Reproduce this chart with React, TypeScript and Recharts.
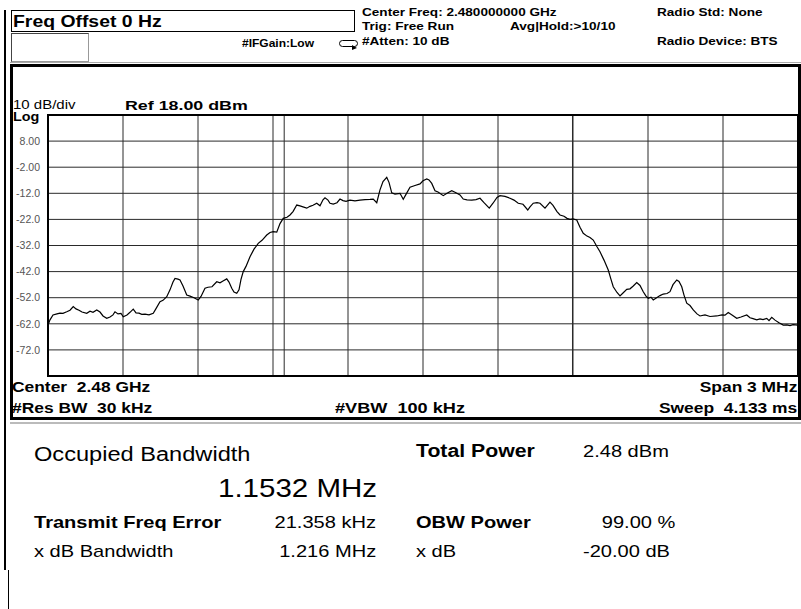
import React from 'react';
import { LineChart, Line, XAxis, YAxis, CartesianGrid, ReferenceLine } from 'recharts';

// ---- data ----
const freqOffsetMHz = [
  -1.5, -1.492, -1.48, -1.464, -1.452, -1.44, -1.425, -1.412, -1.399, -1.388, -1.376, -1.364, -1.345, -1.332, -1.32,
  -1.305, -1.292, -1.28, -1.265, -1.252, -1.24, -1.232, -1.22, -1.208, -1.199, -1.184, -1.172, -1.159, -1.148, -1.136,
  -1.125, -1.112, -1.096, -1.079, -1.068, -1.052, -1.04, -1.025, -1.012, -1.0, -0.992, -0.98, -0.972, -0.96, -0.945,
  -0.932, -0.916, -0.899, -0.888, -0.872, -0.86, -0.844, -0.825, -0.812, -0.8, -0.785, -0.776, -0.765, -0.756, -0.745,
  -0.736, -0.728, -0.719, -0.708, -0.692, -0.676, -0.659, -0.644, -0.625, -0.612, -0.599, -0.585, -0.572, -0.559, -0.544,
  -0.532, -0.52, -0.505, -0.492, -0.48, -0.465, -0.452, -0.44, -0.425, -0.412, -0.4, -0.392, -0.38, -0.372, -0.359,
  -0.344, -0.332, -0.32, -0.308, -0.292, -0.272, -0.252, -0.232, -0.212, -0.199, -0.185, -0.172, -0.16, -0.145, -0.136,
  -0.125, -0.112, -0.092, -0.079, -0.068, -0.052, -0.032, -0.012, 0, 0.015, 0.024, 0.035, 0.048, 0.06, 0.081,
  0.096, 0.115, 0.128, 0.148, 0.161, 0.176, 0.195, 0.212, 0.228, 0.244, 0.265, 0.28, 0.296, 0.308, 0.328,
  0.348, 0.364, 0.381, 0.4, 0.419, 0.428, 0.441, 0.456, 0.468, 0.488, 0.508, 0.52, 0.536, 0.548, 0.564,
  0.576, 0.588, 0.6, 0.615, 0.628, 0.641, 0.656, 0.668, 0.681, 0.696, 0.708, 0.724, 0.741, 0.752, 0.761,
  0.776, 0.788, 0.8, 0.815, 0.828, 0.84, 0.855, 0.868, 0.881, 0.892, 0.901, 0.912, 0.921, 0.936, 0.948,
  0.961, 0.976, 0.988, 1.0, 1.015, 1.024, 1.035, 1.044, 1.055, 1.068, 1.081, 1.096, 1.108, 1.128, 1.148,
  1.175, 1.196, 1.208, 1.221, 1.236, 1.255, 1.272, 1.295, 1.308, 1.32, 1.335, 1.348, 1.36, 1.375, 1.384,
  1.395, 1.408, 1.424, 1.441, 1.456, 1.468, 1.48, 1.5,
];

const traceDbm = [
  -62.5, -60.5, -58.6, -58.2, -57.9, -58.0, -57.4, -56.8, -55.4, -56.3, -56.8, -57.5, -58.0, -57.2, -57.6,
  -56.7, -57.5, -59.0, -59.9, -59.4, -58.6, -57.4, -58.2, -58.0, -59.3, -58.6, -57.6, -56.4, -57.8, -57.9,
  -58.4, -58.3, -58.6, -58.0, -56.2, -53.5, -53.0, -51.6, -49.0, -46.0, -44.6, -44.9, -45.2, -47.5, -51.0,
  -51.4, -52.0, -52.9, -51.5, -48.4, -48.0, -47.8, -45.9, -46.3, -45.6, -44.8, -46.0, -48.4, -49.8, -50.3,
  -49.0, -45.0, -42.0, -40.0, -36.3, -33.4, -31.2, -30.0, -28.0, -27.0, -26.7, -26.9, -23.6, -21.6, -21.2,
  -20.3, -19.0, -16.5, -16.8, -17.2, -17.7, -17.0, -16.6, -15.8, -16.8, -14.5, -13.7, -14.6, -15.8, -16.1,
  -15.6, -14.2, -14.8, -15.1, -14.6, -14.9, -14.6, -14.4, -14.3, -14.2, -15.6, -10.7, -7.5, -5.9, -7.8,
  -11.8, -12.3, -12.0, -14.3, -12.4, -9.7, -9.0, -8.4, -7.2, -6.5, -6.9, -8.2, -11.0, -11.5, -12.9,
  -12.0, -11.0, -11.6, -12.6, -14.2, -14.5, -14.6, -14.4, -13.9, -15.6, -17.7, -15.8, -13.6, -12.9, -13.2,
  -13.9, -14.6, -15.8, -16.2, -18.4, -17.2, -15.8, -15.6, -15.8, -17.7, -15.4, -16.6, -19.0, -20.3, -20.8,
  -21.6, -22.0, -21.8, -22.2, -25.0, -27.3, -28.4, -28.9, -29.9, -32.5, -34.4, -37.6, -41.4, -45.0, -47.8,
  -50.0, -51.3, -50.2, -48.8, -48.6, -47.6, -46.2, -47.3, -49.7, -51.4, -52.2, -51.8, -52.9, -51.9, -51.2,
  -50.6, -50.4, -49.7, -47.0, -45.2, -45.8, -47.8, -51.0, -54.1, -55.0, -56.7, -58.2, -59.0, -58.6, -59.2,
  -59.0, -58.6, -58.7, -57.7, -58.6, -59.9, -59.4, -58.6, -59.7, -60.0, -60.5, -60.1, -60.4, -59.9, -60.8,
  -59.5, -60.6, -61.6, -62.5, -62.4, -62.7, -62.3, -62.5,
];

const refLevelDbm = 18;
const dbPerDiv = 10;
const spanMHz = 3;
const yTicks = [8, -2, -12, -22, -32, -42, -52, -62, -72];
const yTickLabels = ['8.00', '-2.00', '-12.0', '-22.0', '-32.0', '-42.0', '-52.0', '-62.0', '-72.0'];
const xTicks = [-1.2, -0.9, -0.6, -0.3, 0, 0.3, 0.6, 0.9, 1.2];
const obwMHz = 1.1532;
const freqErrorMHz = 0.021358;
const obwEdgesMHz = [freqErrorMHz - obwMHz / 2, freqErrorMHz + obwMHz / 2];

const data = freqOffsetMHz.map((f, i) => ({ f, v: traceDbm[i] }));

const FONT = '"Liberation Sans", Arial, Helvetica, sans-serif';

type TProps = {
  x: number; y: number; size: number; bold?: boolean; sx?: number;
  align?: 'left' | 'right'; color?: string; children: React.ReactNode;
};
function T({ x, y, size, bold, sx = 1.18, align = 'left', color = '#000', children }: TProps) {
  const style: React.CSSProperties = {
    position: 'absolute', top: y, fontSize: size, fontWeight: bold ? 700 : 400, lineHeight: 1,
    whiteSpace: 'pre', fontFamily: FONT, color,
    transform: `translateY(-50%) scaleX(${sx})`,
    transformOrigin: align === 'left' ? 'left center' : 'right center',
  };
  if (align === 'left') style.left = x; else style.right = 801 - x;
  return <div style={style}>{children}</div>;
}

function Box(props: { l: number; t: number; w: number; h: number; style?: React.CSSProperties }) {
  return (
    <div style={{ position: 'absolute', left: props.l, top: props.t, width: props.w, height: props.h, boxSizing: 'border-box', ...props.style }} />
  );
}

export default function App() {
  return (
    <div style={{ position: 'absolute', left: 0, top: 0, width: 801, height: 609, background: '#fff', overflow: 'hidden' }}>
      {/* left edge line */}
      <Box l={4} t={10} w={2} h={560} style={{ background: '#000' }} />
      <Box l={8} t={570} w={1} h={39} style={{ background: '#000' }} />

      {/* header */}
      <Box l={11} t={10} w={344} h={22} style={{ border: '1px solid #000' }} />
      <Box l={11} t={33} w={78} h={29} style={{ borderTop: '1px solid #444', borderLeft: '1px solid #444', borderRight: '1px solid #999', borderBottom: '1px solid #999' }} />
      <T x={13} y={21} size={17} bold sx={1.14}>Freq Offset 0 Hz</T>
      <T x={242} y={44} size={10} bold sx={1.2}>#IFGain:Low</T>
      <svg style={{ position: 'absolute', left: 338, top: 39 }} width={22} height={12}>
        <rect x={1.5} y={1.5} width={18} height={6} rx={3} fill="none" stroke="#000" strokeWidth={1} />
        <path d="M14 6 L19 9 L14 11 Z" fill="#000" />
      </svg>
      <T x={362} y={12.5} size={11.5} bold>Center Freq: 2.480000000 GHz</T>
      <T x={362} y={26.5} size={11.5} bold>Trig: Free Run</T>
      <T x={510} y={26.5} size={11.5} bold>Avg|Hold:&gt;10/10</T>
      <T x={362} y={41.5} size={11.5} bold>#Atten: 10 dB</T>
      <T x={657} y={12.5} size={11.5} bold>Radio Std: None</T>
      <T x={657} y={41.5} size={11.5} bold>Radio Device: BTS</T>

      {/* graph panel frame */}
      <Box l={10} t={62} w={791} h={1} style={{ background: '#aaa' }} />
      <Box l={10} t={64} w={791} h={356} style={{ border: '3px solid #000' }} />
      <Box l={10} t={422} w={791} h={2} style={{ background: '#bbb' }} />

      <T x={13} y={104.5} size={12.5} sx={1.2}>10 dB/div</T>
      <T x={13} y={117} size={12.5} bold sx={1.15}>Log</T>
      <T x={125} y={104.5} size={13} bold sx={1.37}>Ref 18.00 dBm</T>

      <div style={{ position: 'absolute', left: 0, top: 0 }}>
        <LineChart width={801} height={380} data={data} margin={{ top: 115, right: 3, bottom: 4, left: 0 }}>
          <CartesianGrid stroke="#2a2a2a" strokeWidth={1} horizontal vertical />
          <XAxis type="number" dataKey="f" domain={[-spanMHz / 2, spanMHz / 2]} ticks={xTicks} hide />
          <YAxis
            type="number"
            domain={[refLevelDbm - 10 * dbPerDiv, refLevelDbm]}
            ticks={yTicks}
            width={48}
            axisLine={false}
            tickLine={false}
            tickMargin={2}
            interval={0}
            tick={{ fill: '#555', fontSize: 10.5, fontFamily: FONT }}
            tickFormatter={(v: number) => yTickLabels[yTicks.indexOf(v)] ?? ''}
          />
          <ReferenceLine x={obwEdgesMHz[0]} stroke="#2a2a2a" strokeWidth={1} />
          <ReferenceLine x={obwEdgesMHz[1]} stroke="#2a2a2a" strokeWidth={1} />
          <Line type="linear" dataKey="v" stroke="#000" strokeWidth={1.2} dot={false} isAnimationActive={false} />
        </LineChart>
      </div>
      <Box l={47} t={114} w={752} h={263} style={{ border: '2px solid #000' }} />

      <T x={12} y={387} size={14.5} bold sx={1.2}>Center  2.48 GHz</T>
      <T x={12} y={408} size={14.5} bold sx={1.2}>#Res BW  30 kHz</T>
      <T x={335} y={408} size={14.5} bold sx={1.25}>#VBW  100 kHz</T>
      <T x={797} y={387} size={14.5} bold sx={1.2} align="right">Span 3 MHz</T>
      <T x={797} y={408} size={14.5} bold sx={1.2} align="right">Sweep  4.133 ms</T>

      {/* measurement results */}
      <T x={34} y={454} size={20}>Occupied Bandwidth</T>
      <T x={218} y={488} size={25}>1.1532 MHz</T>
      <T x={416} y={451} size={18} bold>Total Power</T>
      <T x={583} y={451} size={17}>2.48 dBm</T>
      <T x={34} y={522} size={17} bold>Transmit Freq Error</T>
      <T x={376} y={522} size={17} align="right">21.358 kHz</T>
      <T x={416} y={522} size={17} bold>OBW Power</T>
      <T x={675} y={522} size={17} align="right">99.00 %</T>
      <T x={34} y={551} size={17}>x dB Bandwidth</T>
      <T x={376} y={551} size={17} align="right">1.216 MHz</T>
      <T x={416} y={551} size={17}>x dB</T>
      <T x={583} y={551} size={17}>-20.00 dB</T>
    </div>
  );
}
